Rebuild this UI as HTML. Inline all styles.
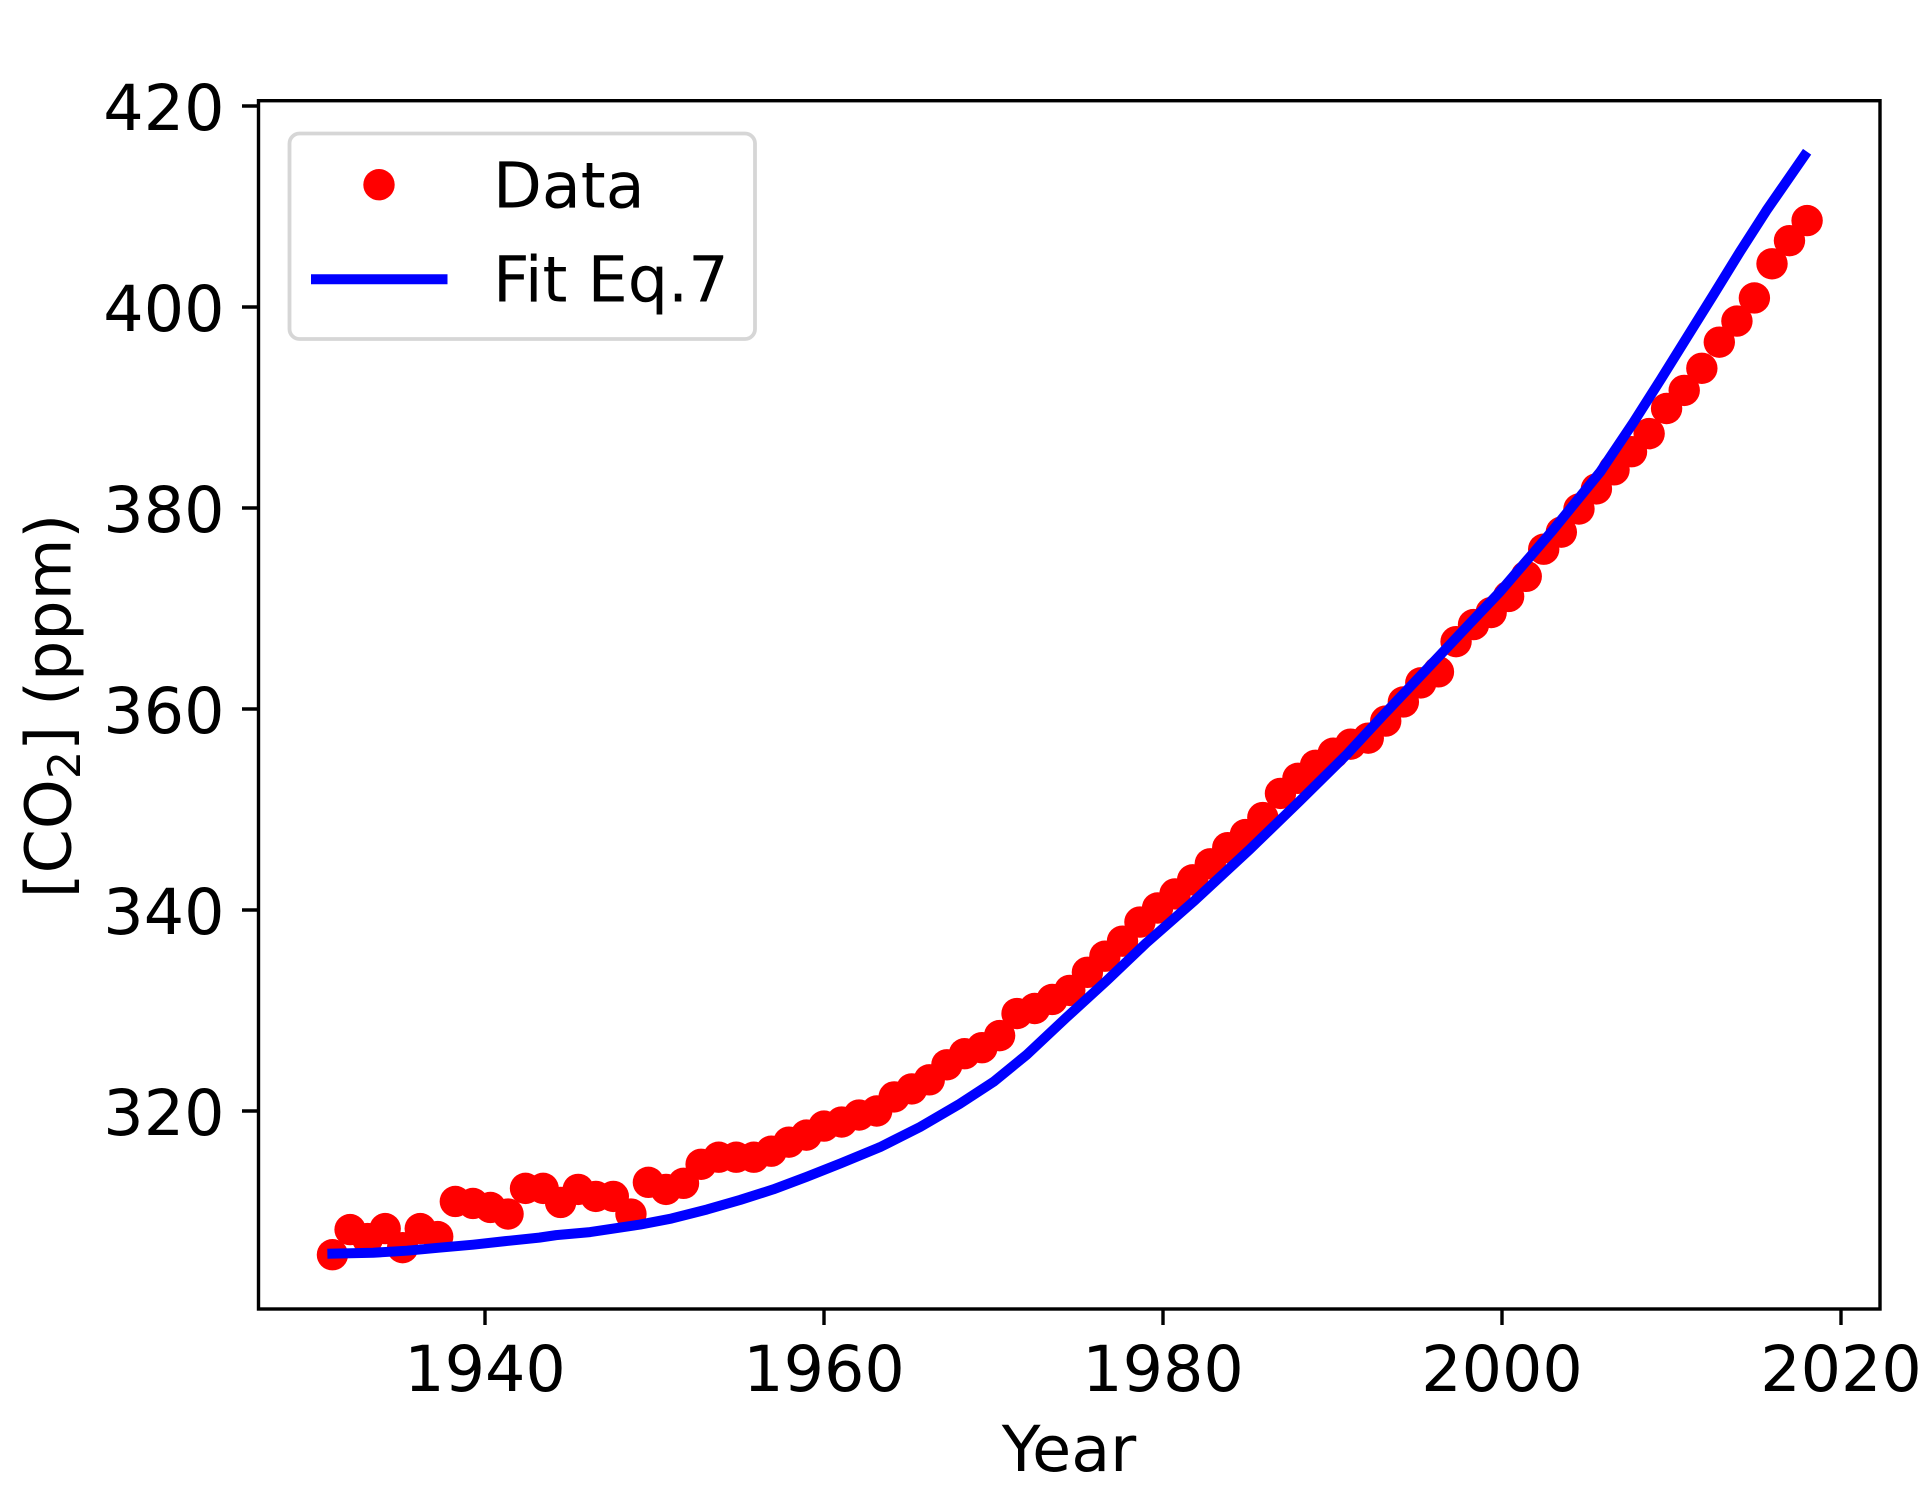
<!DOCTYPE html>
<html lang="en">
<head>
<meta charset="utf-8">
<title>CO2 concentration vs year</title>
<style>
html,body{margin:0;padding:0;background:#fff;}
svg{display:block;}
text{font-family:"DejaVu Sans","Liberation Sans",sans-serif;fill:#000;}
</style>
</head>
<body>
<svg id="chart" xmlns="http://www.w3.org/2000/svg" width="1927" height="1501" viewBox="0 0 1927 1501">
  <rect x="0" y="0" width="1927" height="1501" fill="#fff"/>
  <g id="data-layer"></g>
  <g id="tick-layer"></g>
  <rect x="258.5" y="100.7" width="1621.5" height="1208.3" fill="none" stroke="#000" stroke-width="3.4" stroke-linejoin="miter"/>
  <text x="1069" y="1471" font-size="63.5" text-anchor="middle">Year</text>
  <text transform="translate(70.7,706) rotate(-90)" font-size="63.5" text-anchor="middle">[CO<tspan font-size="44.5" dy="9.5">2</tspan><tspan dy="-9.5">] (ppm)</tspan></text>
  <g>
    <rect x="289.5" y="133.5" width="465.5" height="205.5" rx="10" ry="10" fill="#fff" fill-opacity="0.8" stroke="#d6d6d6" stroke-width="3.8"/>
    <circle cx="379" cy="184.7" r="15.7" fill="#ff0000"/>
    <text x="493" y="207.7" font-size="63.5">Data</text>
    <line x1="311" y1="279.3" x2="447.5" y2="279.3" stroke="#0000ff" stroke-width="10"/>
    <text x="493" y="301.7" font-size="63.5">Fit Eq.7</text>
  </g>
</svg>
<script>
const xTickValues = [1940, 1960, 1980, 2000, 2020];
const yTickValues = [320, 340, 360, 380, 400, 420];

const dataYears = [
  1931.00, 1932.04, 1933.07, 1934.11, 1935.14, 1936.18, 1937.21, 1938.25, 1939.29, 1940.32,
  1941.36, 1942.39, 1943.43, 1944.46, 1945.50, 1946.54, 1947.57, 1948.61, 1949.64, 1950.68,
  1951.71, 1952.75, 1953.79, 1954.82, 1955.86, 1956.89, 1957.93, 1958.96, 1960.00, 1961.04,
  1962.07, 1963.11, 1964.14, 1965.18, 1966.21, 1967.25, 1968.29, 1969.32, 1970.36, 1971.39,
  1972.43, 1973.46, 1974.50, 1975.54, 1976.57, 1977.61, 1978.64, 1979.68, 1980.71, 1981.75,
  1982.79, 1983.82, 1984.86, 1985.89, 1986.93, 1987.96, 1989.00, 1990.04, 1991.07, 1992.11,
  1993.14, 1994.18, 1995.21, 1996.25, 1997.29, 1998.32, 1999.36, 2000.39, 2001.43, 2002.46,
  2003.50, 2004.54, 2005.57, 2006.61, 2007.64, 2008.68, 2009.71, 2010.75, 2011.79, 2012.82,
  2013.86, 2014.89, 2015.93, 2016.96, 2018.00
];
const dataCo2 = [
  305.7, 308.2, 307.3, 308.3, 306.4, 308.3, 307.5, 311.0, 310.8, 310.4,
  309.75, 312.3, 312.3, 310.9, 312.2, 311.5, 311.5, 309.75, 312.9, 312.2,
  312.8, 314.7, 315.4, 315.4, 315.4, 316.0, 316.9, 317.6, 318.5, 318.9,
  319.6, 320.0, 321.4, 322.2, 323.1, 324.6, 325.7, 326.3, 327.5, 329.7,
  330.2, 331.1, 332.0, 333.8, 335.4, 336.9, 338.8, 340.2, 341.6, 343.0,
  344.6, 346.2, 347.5, 349.2, 351.6, 353.1, 354.4, 355.6, 356.5, 357.1,
  358.8, 360.7, 362.6, 363.7, 366.7, 368.4, 369.6, 371.2, 373.2, 375.9,
  377.6, 379.9, 381.9, 383.8, 385.6, 387.4, 389.9, 391.7, 393.9, 396.5,
  398.6, 400.9, 404.3, 406.6, 408.6
];

const fitYears = [
  1930.7, 1933.4, 1935.4, 1937.3, 1939.3, 1941.2, 1943.2, 1944.2, 1946.2, 1949.15,
  1951.0, 1953.1, 1955.05, 1957.0, 1958.98, 1961.0, 1963.3, 1965.66, 1968.0, 1970.0,
  1971.96, 1974.3, 1976.7, 1979.0, 1981.9, 1985.1, 1988.1, 1990.8, 1993.0, 1995.75,
  1998.1, 1999.9, 2003.0, 2005.8, 2007.75, 2009.33, 2010.9, 2012.47, 2014.04, 2015.6,
  2018.0
];
const fitCo2 = [
  305.8, 305.9, 306.1, 306.4, 306.7, 307.05, 307.4, 307.65, 307.95, 308.7,
  309.3, 310.2, 311.15, 312.2, 313.45, 314.8, 316.4, 318.4, 320.7, 322.9,
  325.6, 329.3, 333.0, 336.7, 341.0, 346.0, 350.9, 355.4, 359.4, 364.3,
  368.5, 371.7, 377.8, 383.6, 388.5, 392.7, 396.95, 401.2, 405.5, 409.6,
  415.45
];

const SVG_NS = 'http://www.w3.org/2000/svg';

function xScale(year) {
  return 485 + (year - 1940) * 16.95;
}
function yScale(value) {
  return 106 + (420 - value) * 10.05;
}

const dataLayer = document.getElementById('data-layer');
const tickLayer = document.getElementById('tick-layer');

dataYears.forEach(function (year, i) {
  const dot = document.createElementNS(SVG_NS, 'circle');
  dot.setAttribute('cx', xScale(year));
  dot.setAttribute('cy', yScale(dataCo2[i]));
  dot.setAttribute('r', 15.7);
  dot.setAttribute('fill', '#ff0000');
  
  
  dataLayer.appendChild(dot);
});

const fitLine = document.createElementNS(SVG_NS, 'polyline');
fitLine.setAttribute('points', fitYears.map(function (year, i) {
  return xScale(year).toFixed(2) + ',' + yScale(fitCo2[i]).toFixed(2);
}).join(' '));
fitLine.setAttribute('fill', 'none');
fitLine.setAttribute('stroke', '#0000ff');
fitLine.setAttribute('stroke-width', '10');
fitLine.setAttribute('stroke-linejoin', 'round');


dataLayer.appendChild(fitLine);

xTickValues.forEach(function (value) {
  const x = xScale(value);
  const tick = document.createElementNS(SVG_NS, 'line');
  tick.setAttribute('x1', x);
  tick.setAttribute('x2', x);
  tick.setAttribute('y1', 1309);
  tick.setAttribute('y2', 1325);
  tick.setAttribute('stroke', '#000');
  tick.setAttribute('stroke-width', 3.4);
  
  
  tickLayer.appendChild(tick);

  const label = document.createElementNS(SVG_NS, 'text');
  label.setAttribute('x', x);
  label.setAttribute('y', 1391);
  label.setAttribute('font-size', '63.5');
  label.setAttribute('text-anchor', 'middle');
  label.textContent = String(value);
  
  
  tickLayer.appendChild(label);
});

yTickValues.forEach(function (value) {
  const y = yScale(value);
  const tick = document.createElementNS(SVG_NS, 'line');
  tick.setAttribute('x1', 242);
  tick.setAttribute('x2', 258.5);
  tick.setAttribute('y1', y);
  tick.setAttribute('y2', y);
  tick.setAttribute('stroke', '#000');
  tick.setAttribute('stroke-width', 3.4);
  
  
  tickLayer.appendChild(tick);

  const label = document.createElementNS(SVG_NS, 'text');
  label.setAttribute('x', 224.5);
  label.setAttribute('y', y + 24);
  label.setAttribute('font-size', '63.5');
  label.setAttribute('text-anchor', 'end');
  label.textContent = String(value);
  
  
  tickLayer.appendChild(label);
});
</script>
</body>
</html>
